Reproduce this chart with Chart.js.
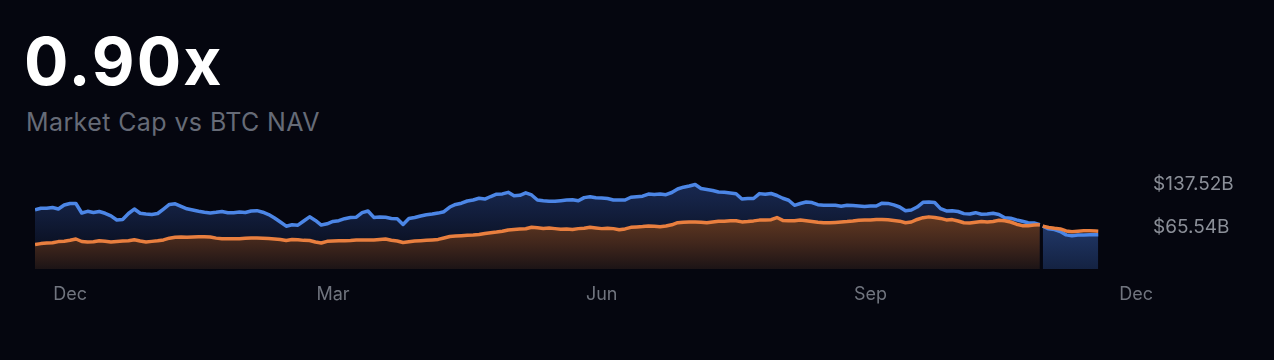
<!DOCTYPE html>
<html>
<head>
<meta charset="utf-8">
<script src="https://cdn.jsdelivr.net/npm/chart.js"></script>
<style>
  html, body { margin: 0; padding: 0; background: #05060f; }
  body { width: 1274px; height: 360px; position: relative; overflow: hidden; font-family: Inter, "Noto Sans", sans-serif; }
  #ratio { position: absolute; left: 24px; top: 28px; font-size: 66px; font-weight: 700; line-height: 1; letter-spacing: 2px; color: #ffffff; }
  #caption { position: absolute; left: 26px; top: 110px; font-size: 25px; line-height: 1; letter-spacing: 0.4px; color: #666b77; }
  #chart { position: absolute; left: 0; top: 0; }
</style>
</head>
<body>
<div id="ratio">0.90x</div>
<div id="caption">Market Cap vs BTC NAV</div>
<canvas id="chart" width="1274" height="360"></canvas>
<script>
// dates of the samples (every 2 days), values in $B
const dates = [
  '2024-11-19','2024-11-21','2024-11-23','2024-11-25','2024-11-27','2024-11-29',
  '2024-12-01','2024-12-03','2024-12-05','2024-12-07','2024-12-09','2024-12-11','2024-12-13','2024-12-15',
  '2024-12-17','2024-12-19','2024-12-21','2024-12-23','2024-12-25','2024-12-27','2024-12-29','2024-12-31',
  '2025-01-02','2025-01-04','2025-01-06','2025-01-08','2025-01-10','2025-01-12','2025-01-14','2025-01-16',
  '2025-01-18','2025-01-20','2025-01-22','2025-01-24','2025-01-26','2025-01-28','2025-01-30',
  '2025-02-01','2025-02-03','2025-02-05','2025-02-07','2025-02-09','2025-02-11','2025-02-13','2025-02-15',
  '2025-02-17','2025-02-19','2025-02-21','2025-02-23','2025-02-25','2025-02-27',
  '2025-03-01','2025-03-03','2025-03-05','2025-03-07','2025-03-09','2025-03-11','2025-03-13','2025-03-15',
  '2025-03-17','2025-03-19','2025-03-21','2025-03-23','2025-03-25','2025-03-27','2025-03-29','2025-03-31',
  '2025-04-02','2025-04-04','2025-04-06','2025-04-08','2025-04-10','2025-04-12','2025-04-14','2025-04-16',
  '2025-04-18','2025-04-20','2025-04-22','2025-04-24','2025-04-26','2025-04-28','2025-04-30',
  '2025-05-02','2025-05-04','2025-05-06','2025-05-08','2025-05-10','2025-05-12','2025-05-14','2025-05-16',
  '2025-05-18','2025-05-20','2025-05-22','2025-05-24','2025-05-26','2025-05-28','2025-05-30',
  '2025-06-01','2025-06-03','2025-06-05','2025-06-07','2025-06-09','2025-06-11','2025-06-13','2025-06-15',
  '2025-06-17','2025-06-19','2025-06-21','2025-06-23','2025-06-25','2025-06-27','2025-06-29',
  '2025-07-01','2025-07-03','2025-07-05','2025-07-07','2025-07-09','2025-07-11','2025-07-13','2025-07-15',
  '2025-07-17','2025-07-19','2025-07-21','2025-07-23','2025-07-25','2025-07-27','2025-07-29','2025-07-31',
  '2025-08-02','2025-08-04','2025-08-06','2025-08-08','2025-08-10','2025-08-12','2025-08-14','2025-08-16',
  '2025-08-18','2025-08-20','2025-08-22','2025-08-24','2025-08-26','2025-08-28','2025-08-30',
  '2025-09-01','2025-09-03','2025-09-05','2025-09-07','2025-09-09','2025-09-11','2025-09-13','2025-09-15',
  '2025-09-17','2025-09-19','2025-09-21','2025-09-23','2025-09-25','2025-09-27','2025-09-29',
  '2025-10-01','2025-10-03','2025-10-05','2025-10-07','2025-10-09','2025-10-11','2025-10-13','2025-10-15',
  '2025-10-17','2025-10-19','2025-10-21','2025-10-23','2025-10-25','2025-10-27','2025-10-29',
  '2025-10-30','2025-11-01','2025-11-03','2025-11-05','2025-11-07','2025-11-09','2025-11-11','2025-11-13',
  '2025-11-15','2025-11-17','2025-11-18'
];

const marketCap = [
  94.7, 97.4, 97.2, 98.6, 96.0, 102.8,
  105.4, 105.4, 89.3, 92.1, 90.1, 91.8, 88.8, 84.5, 77.4, 78.3, 88.4, 96.0, 88.8, 87.6, 86.7, 88.4,
  96.0, 103.7, 104.8, 100.6, 96.4, 94.3, 92.1, 90.4, 89.3, 90.4, 91.8, 89.8, 89.8, 91.0, 90.1,
  92.7, 93.2, 90.6, 86.7, 80.8, 74.0, 66.9, 69.3, 68.6, 75.7, 82.8, 76.6, 68.9, 71.0,
  74.9, 76.2, 79.6, 81.5, 82.1, 89.8, 92.7, 81.8, 82.5, 82.0, 79.9, 79.4, 69.8, 79.8, 81.6, 84.2,
  86.2, 87.4, 89.1, 91.5, 99.4, 103.8, 105.9, 109.6, 111.3, 114.3, 112.8, 117.2, 121.1, 121.6, 124.3,
  118.4, 119.2, 123.5, 119.8, 111.3, 110.1, 109.3, 109.1, 110.1, 111.3, 111.6, 109.9, 115.3, 116.9, 115.0,
  114.7, 113.7, 111.3, 111.3, 111.3, 116.0, 116.9, 117.7, 121.4, 120.6, 121.4, 120.3, 124.0, 129.9, 133.0,
  135.0, 137.5, 130.8, 129.1, 127.4, 124.8, 124.5, 123.3, 122.0, 113.0, 113.8, 113.8, 122.1, 120.9, 122.3, 118.9,
  114.2, 110.9, 102.3, 105.4, 107.9, 106.9, 103.3, 102.3, 102.3, 102.3, 100.8, 102.3, 101.8, 101.0, 100.1,
  101.1, 101.1, 105.9, 105.5, 103.0, 99.4, 93.0, 94.3, 99.4, 107.4, 107.9, 107.0, 96.7, 92.7, 93.2,
  91.8, 88.2, 87.6, 89.8, 87.2, 87.6, 88.8, 86.7, 81.3, 80.5, 77.7, 75.2, 72.8, 72.5, 69.4,
  66.9, 62.5, 61.1, 57.9, 52.2, 50.6, 52.0, 52.2, 52.3, 52.4, 52.5
];

const btcNav = [
  35.7, 37.4, 38.3, 39.0, 40.8, 41.3,
  43.0, 45.2, 41.0, 40.1, 40.5, 42.2, 41.3, 40.1, 41.0, 41.7, 42.2, 44.0, 41.8, 40.3, 41.2, 42.2,
  43.7, 46.6, 48.3, 48.8, 48.1, 48.6, 49.1, 49.0, 48.6, 46.7, 45.7, 45.7, 45.7, 45.7, 46.4,
  46.9, 46.9, 46.6, 45.9, 45.2, 44.2, 42.7, 44.4, 43.9, 42.9, 42.7, 40.1, 38.4, 41.3,
  41.8, 42.3, 42.3, 42.7, 43.4, 43.5, 43.5, 43.5, 44.4, 45.1, 43.2, 41.8, 39.3, 40.5, 41.8, 42.3,
  43.0, 43.7, 44.5, 46.9, 49.5, 50.1, 50.8, 51.5, 52.0, 52.8, 54.4, 55.7, 56.9, 58.4, 60.6,
  61.3, 62.0, 62.5, 65.2, 64.2, 63.0, 63.7, 62.8, 61.8, 62.2, 61.3, 62.8, 63.5, 65.0, 63.9,
  62.8, 63.5, 62.8, 60.8, 62.3, 65.0, 65.7, 66.2, 67.1, 66.9, 66.1, 67.2, 69.3, 72.8, 73.5,
  74.0, 74.0, 73.7, 72.8, 74.0, 75.2, 75.2, 76.2, 76.1, 74.2, 74.9, 75.9, 77.2, 77.4, 77.9, 81.6,
  76.7, 76.2, 76.2, 77.4, 76.2, 74.9, 73.5, 72.8, 72.8, 73.3, 74.0, 74.7, 75.7, 77.1, 77.4,
  77.4, 78.1, 78.4, 77.7, 76.6, 75.4, 72.7, 74.0, 78.3, 81.3, 82.7, 81.8, 80.1, 77.6, 78.1,
  75.7, 72.8, 72.2, 73.5, 75.0, 74.0, 75.0, 76.9, 76.1, 74.0, 70.3, 67.8, 67.6, 68.8, 69.4,
  67.1, 64.7, 63.3, 62.3, 58.9, 57.4, 58.4, 59.3, 59.1, 58.6, 58.3
];

// last stretch is drawn as its own segment
const splitDate = '2025-10-30';

const tickDates = ['2024-12-01', '2025-03-01', '2025-06-01', '2025-09-01', '2025-12-01'];
const tickLabels = ['Dec', 'Mar', 'Jun', 'Sep', 'Dec'];
const yTicks = [137.52, 65.54];
const yTickLabels = ['$137.52B', '$65.54B'];
const axisStart = '2024-11-19';
const axisEnd = '2025-12-04';

const DAY = 86400000;
const origin = Date.parse('2024-12-01');
function dayOf(date) {
  return (Date.parse(date) - origin) / DAY;
}

function points(values, before) {
  const out = [];
  dates.forEach((d, i) => {
    if ((d < splitDate) === before) out.push({ x: dayOf(d), y: values[i] });
  });
  return out;
}

function gradient(stops) {
  return (ctx) => {
    const area = ctx.chart.chartArea;
    if (!area) return stops[0][1];
    const g = ctx.chart.ctx.createLinearGradient(0, area.top, 0, area.bottom);
    stops.forEach(([p, c]) => g.addColorStop(p, c));
    return g;
  };
}

const BLUE = '#4c86e6';
const ORANGE = '#e97f3f';

const lineStyle = {
  borderWidth: 3.5,
  pointRadius: 0,
  tension: 0,
  borderJoinStyle: 'round',
};

new Chart(document.getElementById('chart'), {
  type: 'line',
  data: {
    datasets: [
      {
        ...lineStyle,
        label: 'Market Cap',
        data: points(marketCap, true),
        borderColor: BLUE,
        fill: 'start',
        backgroundColor: gradient([[0, 'rgb(26,44,88)'], [0.3, 'rgb(21,35,70)'], [0.7, 'rgb(12,19,40)'], [1, 'rgb(6,9,20)']]),
        order: 4,
      },
      {
        ...lineStyle,
        label: 'BTC NAV',
        data: points(btcNav, true),
        borderColor: ORANGE,
        fill: 'start',
        backgroundColor: gradient([[0.45, 'rgb(100,58,34)'], [0.75, 'rgb(64,38,28)'], [1, 'rgb(28,20,22)']]),
        order: 3,
      },
      {
        ...lineStyle,
        label: 'Market Cap',
        data: points(marketCap, false),
        borderColor: BLUE,
        fill: 'start',
        backgroundColor: gradient([[0.55, 'rgb(33,56,105)'], [1, 'rgb(20,34,66)']]),
        order: 2,
      },
      {
        ...lineStyle,
        label: 'BTC NAV',
        data: points(btcNav, false),
        borderColor: ORANGE,
        fill: false,
        order: 1,
      },
    ],
  },
  options: {
    responsive: false,
    animation: false,
    layout: { padding: { left: 35, top: 170, right: 0, bottom: 51 } },
    plugins: {
      legend: { display: false },
      tooltip: { enabled: false },
      filler: { drawTime: 'beforeDatasetsDraw' },
    },
    scales: {
      x: {
        type: 'linear',
        min: dayOf(axisStart),
        max: dayOf(axisEnd),
        grid: { display: false, drawTicks: false },
        border: { display: false },
        afterBuildTicks: (scale) => {
          scale.ticks = tickDates.map((d) => ({ value: dayOf(d) }));
        },
        afterFit: (scale) => {
          scale.height = 40;
        },
        ticks: {
          autoSkip: false,
          maxRotation: 0,
          padding: 15,
          color: '#70747e',
          font: { family: 'Inter', size: 18 },
          callback: (value, index) => tickLabels[index],
        },
      },
      y: {
        position: 'right',
        min: -5.6,
        max: 162.1,
        grid: { display: false, drawTicks: false },
        border: { display: false },
        afterBuildTicks: (scale) => {
          scale.ticks = yTicks.map((v) => ({ value: v }));
        },
        afterFit: (scale) => {
          scale.width = 129;
        },
        ticks: {
          padding: 8,
          color: '#8b8f98',
          font: { family: 'Inter', size: 19 },
          callback: (value, index) => yTickLabels[index],
        },
      },
    },
  },
});
</script>
</body>
</html>
